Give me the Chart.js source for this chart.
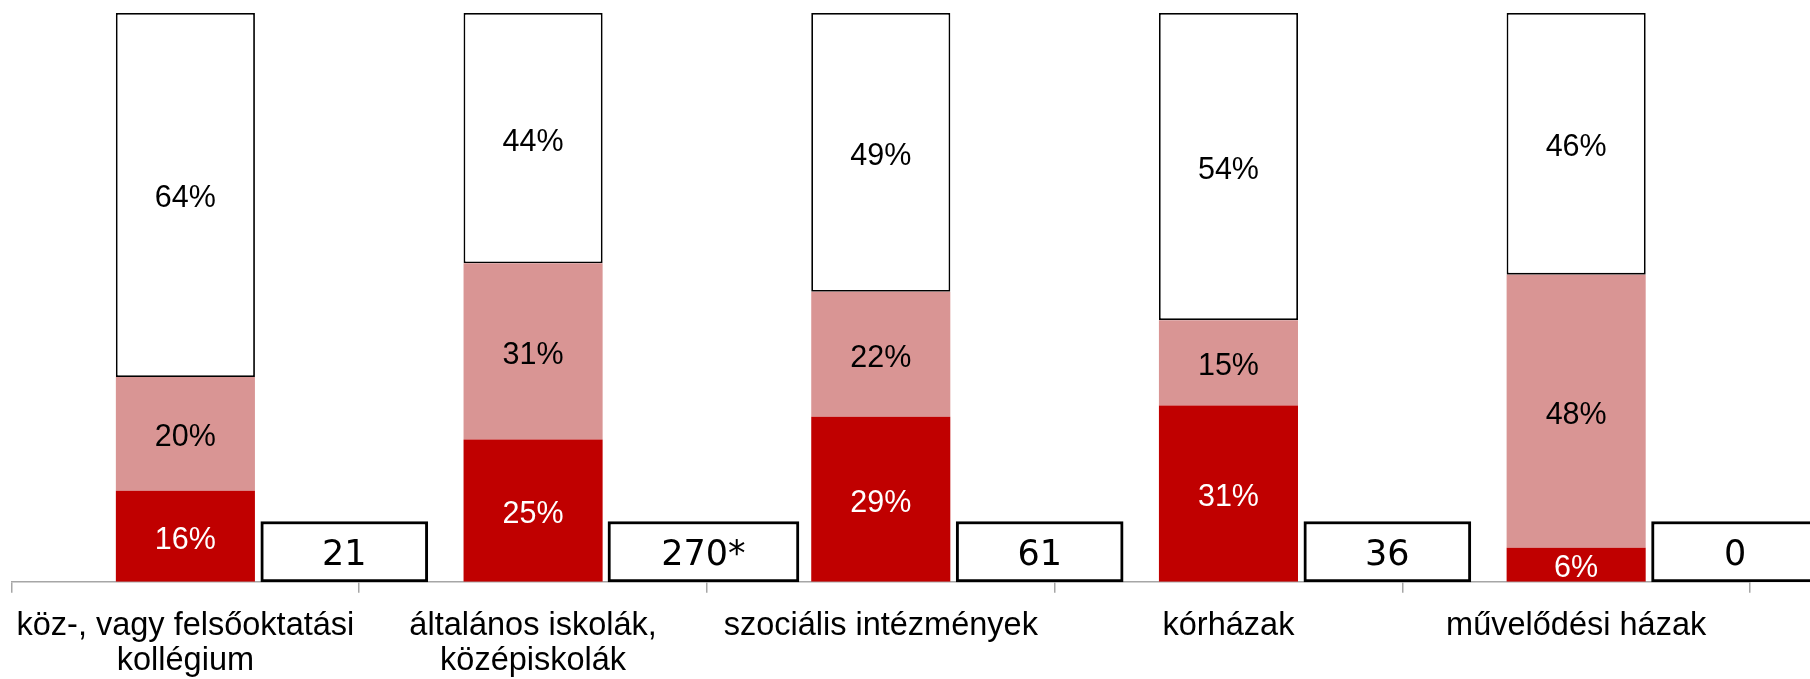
<!DOCTYPE html>
<html>
<head>
<meta charset="utf-8">
<script src="https://cdn.jsdelivr.net/npm/chart.js@4.4.1/dist/chart.umd.min.js"></script>
<style>
  html, body { margin: 0; padding: 0; background: #fff; overflow: hidden; }
  #wrap { width: 1810px; height: 679px; position: relative; }
</style>
</head>
<body>
<div id="wrap"><canvas id="c" width="1810" height="679"></canvas></div>
<script>
// ---- data ----
const categories = [
  ['köz-, vagy felsőoktatási', 'kollégium'],
  ['általános iskolák,', 'középiskolák'],
  'szociális intézmények',
  'kórházak',
  'művelődési házak'
];
const darkShare  = [16, 25, 29, 31, 6];   // dark red segment (%)
const lightShare = [20, 31, 22, 15, 48];  // light red segment (%)
const whiteShare = [64, 44, 49, 54, 46];  // white segment (%)
const countLabels = ['21', '270*', '61', '36', '0'];

// ---- layout constants (not data) ----
const BOX_LEVEL = 10.6;        // height of the count boxes in y units
const FONT = "'Liberation Sans', Arial, sans-serif";
const BOX_FONT = "'DejaVu Sans', sans-serif";

const idx = countLabels.map((t, i) => i);
const narrowIdx = idx.filter(i => countLabels[i].length <= 2);
const wideIdx = idx.filter(i => countLabels[i].length > 2);

const ds = [
  { label: 'dark', data: darkShare, backgroundColor: '#C00000', borderWidth: 0,
    xAxisID: 'x', stack: 'main', grouped: false, barPercentage: 0.4, categoryPercentage: 1,
    labelColor: '#FFFFFF', labelFont: '30.5px ' + FONT, suffix: '%', dy: 4 },
  { label: 'light', data: lightShare, backgroundColor: '#D99594', borderWidth: 0,
    xAxisID: 'x', stack: 'main', grouped: false, barPercentage: 0.4, categoryPercentage: 1,
    labelColor: '#000000', labelFont: '30.5px ' + FONT, suffix: '%', dy: 4 },
  { label: 'white', data: whiteShare, backgroundColor: '#FFFFFF', borderColor: '#000000',
    borderWidth: 1.8, borderSkipped: false,
    xAxisID: 'x', stack: 'main', grouped: false, barPercentage: 0.4, categoryPercentage: 1,
    labelColor: '#000000', labelFont: '30.5px ' + FONT, suffix: '%', dy: 4 },
  { label: 'countNarrow', xAxisID: 'x2', stack: 'count', grouped: false, clip: false,
    data: narrowIdx.map(i => ({ x: i, y: BOX_LEVEL })),
    texts: narrowIdx.map(i => countLabels[i]),
    backgroundColor: '#FFFFFF', borderColor: '#000000', borderWidth: 3, borderSkipped: false,
    barThickness: 167, labelColor: '#000000', labelFont: '35px ' + BOX_FONT, dy: 4 },
  { label: 'countWide', xAxisID: 'x3', stack: 'count', grouped: false, clip: false,
    data: wideIdx.map(i => ({ x: i, y: BOX_LEVEL })),
    texts: wideIdx.map(i => countLabels[i]),
    backgroundColor: '#FFFFFF', borderColor: '#000000', borderWidth: 3, borderSkipped: false,
    barThickness: 191, labelColor: '#000000', labelFont: '35px ' + BOX_FONT, dy: 4 }
];

const labelPlugin = {
  id: 'segLabels',
  afterDatasetsDraw(chart) {
    const ctx = chart.ctx;
    ctx.save();
    ctx.textAlign = 'center';
    ctx.textBaseline = 'middle';
    chart.data.datasets.forEach((d, di) => {
      const meta = chart.getDatasetMeta(di);
      meta.data.forEach((el, i) => {
        const txt = d.texts ? d.texts[i] : d.data[i] + d.suffix;
        const p = el.getProps(['x', 'y', 'base'], true);
        ctx.fillStyle = d.labelColor;
        ctx.font = d.labelFont;
        ctx.fillText(txt, p.x, (p.y + p.base) / 2 + d.dy);
      });
    });
    ctx.restore();
  }
};

new Chart(document.getElementById('c'), {
  type: 'bar',
  data: { labels: categories, datasets: ds },
  options: {
    responsive: false,
    animation: false,
    events: [],
    datasets: { bar: { grouped: false } },
    layout: { padding: { left: 10, right: 60, top: 13, bottom: -15 } },
    plugins: { legend: { display: false }, tooltip: { enabled: false } },
    scales: {
      x: {
        stacked: true,
        offset: true,
        grid: { display: true, offset: true, drawOnChartArea: false, drawTicks: true,
                tickLength: 11, color: '#A6A6A6', lineWidth: 1.5 },
        border: { display: true, color: '#A6A6A6', width: 1.5 },
        ticks: { color: '#000000', font: { family: FONT, size: 32.5, lineHeight: 1.08 },
                 padding: 15.5, maxRotation: 0, autoSkip: false }
      },
      x2: { type: 'linear', display: false, stacked: true, offset: false, min: -0.957, max: 4.043 },
      x3: { type: 'linear', display: false, stacked: true, offset: false, min: -0.99, max: 4.01 },
      y: { stacked: true, display: false, min: 0, max: 100 }
    }
  },
  plugins: [labelPlugin]
});
</script>
</body>
</html>
